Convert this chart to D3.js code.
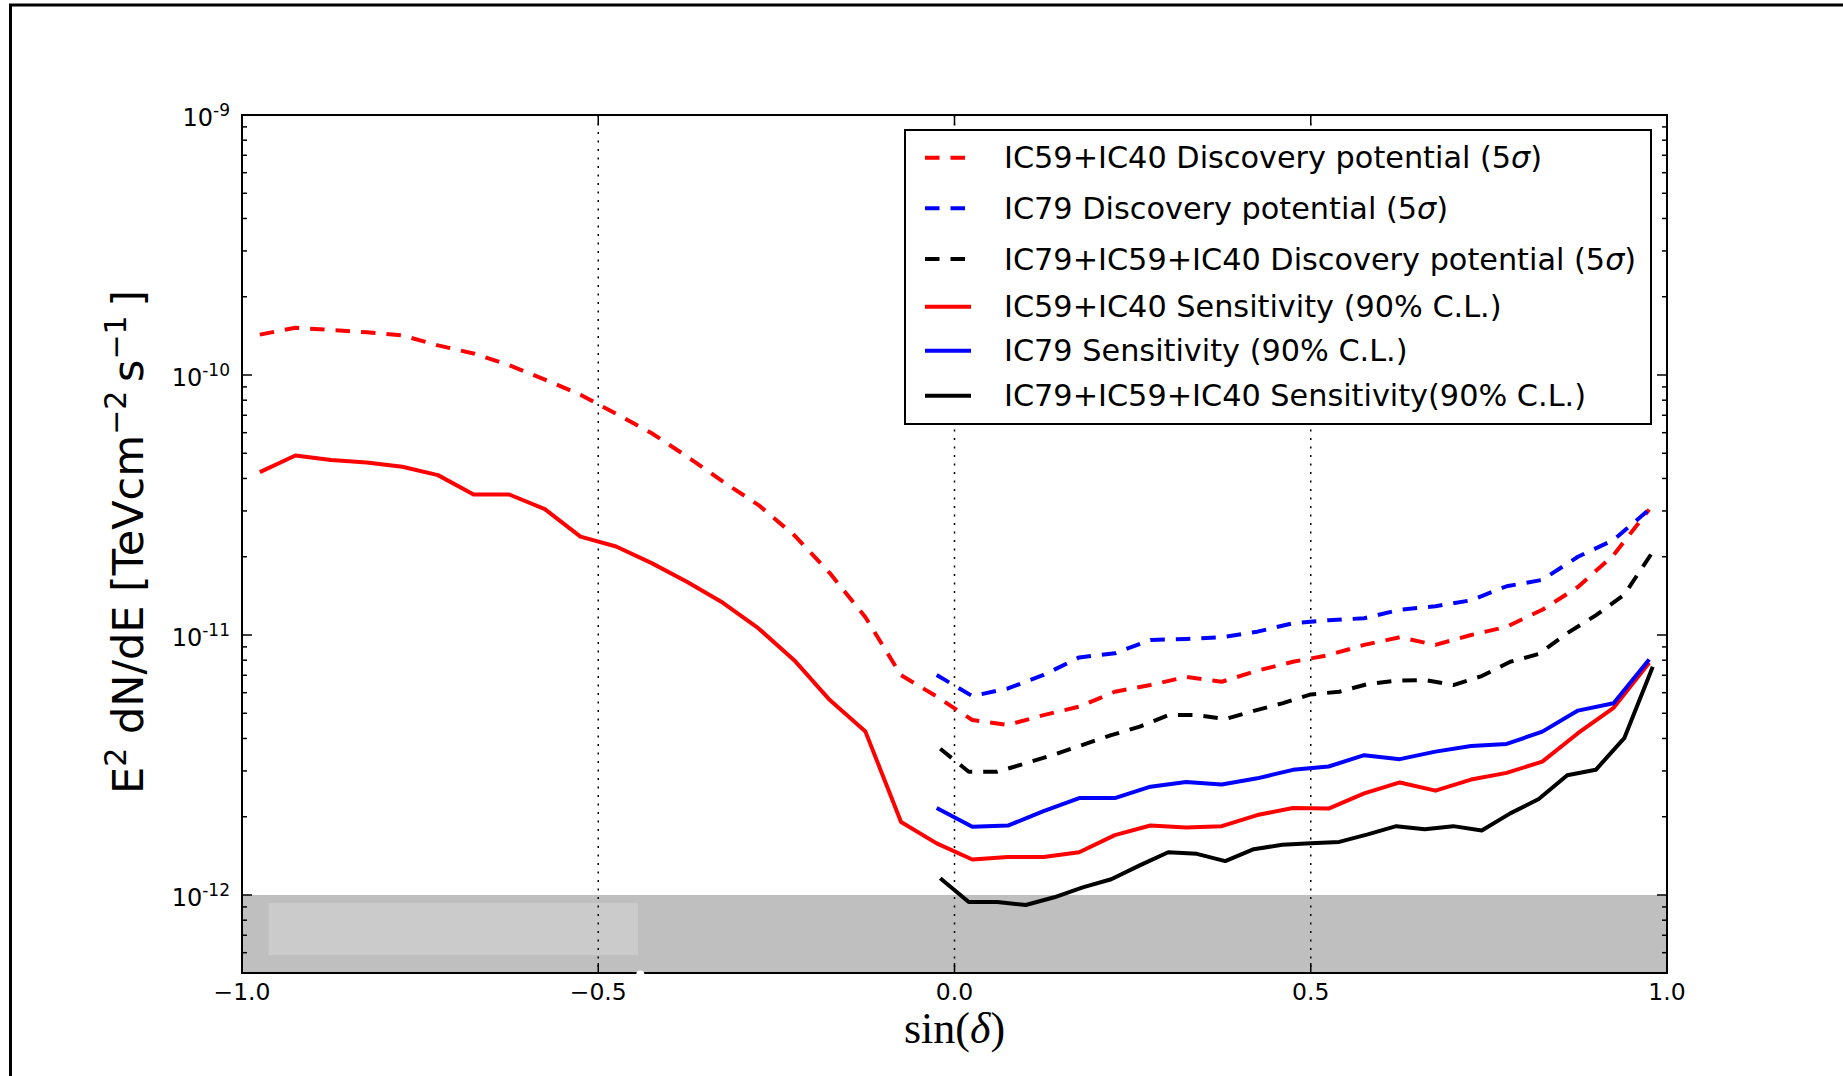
<!DOCTYPE html>
<html>
<head>
<meta charset="utf-8">
<script src="https://cdn.jsdelivr.net/npm/d3@7"></script>
<style>
  body { margin: 0; background: #fff; }
  svg { display: block; }
  text { font-family: "DejaVu Sans", sans-serif; fill: #000; }
</style>
</head>
<body>
<svg id="chart" width="1843" height="1076"></svg>
<script>
// sin(declination) sampling of each sample
const sinDecFull = [-0.975, -0.925, -0.875, -0.825, -0.775, -0.725, -0.675, -0.625, -0.575, -0.525,
  -0.475, -0.425, -0.375, -0.325, -0.275, -0.225, -0.175, -0.125, -0.075, -0.025,
  0.025, 0.075, 0.125, 0.175, 0.225, 0.275, 0.325, 0.375, 0.425, 0.475,
  0.525, 0.575, 0.625, 0.675, 0.725, 0.775, 0.825, 0.875, 0.925, 0.975];
const sinDecNorth = [-0.025, 0.025, 0.075, 0.125, 0.175, 0.225, 0.275, 0.325, 0.375, 0.425,
  0.475, 0.525, 0.575, 0.625, 0.675, 0.725, 0.775, 0.825, 0.875, 0.925, 0.975];
const sinDecComb = [-0.02, 0.02, 0.06, 0.10, 0.14, 0.18, 0.22, 0.26, 0.30, 0.34, 0.38, 0.42, 0.46,
  0.50, 0.54, 0.58, 0.62, 0.66, 0.70, 0.74, 0.78, 0.82, 0.86, 0.90, 0.94, 0.98];

// E^2 dN/dE flux values [TeV cm^-2 s^-1]
const ic5940Discovery = [1.43e-10, 1.52e-10, 1.49e-10, 1.46e-10, 1.42e-10, 1.30e-10, 1.21e-10, 1.09e-10, 9.6e-11, 8.4e-11,
  7.1e-11, 5.97e-11, 4.85e-11, 3.89e-11, 3.16e-11, 2.42e-11, 1.73e-11, 1.17e-11, 7.0e-12, 5.8e-12,
  4.71e-12, 4.51e-12, 4.92e-12, 5.30e-12, 6.05e-12, 6.42e-12, 6.9e-12, 6.61e-12, 7.29e-12, 7.89e-12,
  8.37e-12, 9.16e-12, 9.8e-12, 9.16e-12, 1.0e-11, 1.076e-11, 1.25e-11, 1.53e-11, 2.03e-11, 3.04e-11];
const ic79Discovery = [7.02e-12, 5.82e-12, 6.23e-12, 7.02e-12, 8.2e-12, 8.5e-12, 9.57e-12, 9.66e-12, 9.8e-12, 1.03e-11,
  1.11e-11, 1.14e-11, 1.16e-11, 1.25e-11, 1.29e-11, 1.36e-11, 1.54e-11, 1.63e-11, 2.0e-11, 2.32e-11, 3.04e-11];
const combDiscovery = [3.65e-12, 2.98e-12, 2.98e-12, 3.21e-12, 3.47e-12, 3.78e-12, 4.12e-12, 4.44e-12, 4.92e-12,
  4.92e-12, 4.75e-12, 5.11e-12, 5.46e-12, 5.91e-12, 6.05e-12, 6.48e-12, 6.67e-12, 6.71e-12, 6.42e-12,
  6.95e-12, 7.89e-12, 8.45e-12, 1.016e-11, 1.19e-11, 1.43e-11, 2.09e-11];
const ic5940Sensitivity = [4.23e-11, 4.90e-11, 4.71e-11, 4.61e-11, 4.44e-11, 4.12e-11, 3.47e-11, 3.47e-11, 3.05e-11, 2.39e-11,
  2.19e-11, 1.89e-11, 1.60e-11, 1.33e-11, 1.06e-11, 8.0e-12, 5.62e-12, 4.25e-12, 1.91e-12, 1.58e-12,
  1.37e-12, 1.40e-12, 1.40e-12, 1.46e-12, 1.70e-12, 1.85e-12, 1.82e-12, 1.84e-12, 2.03e-12, 2.16e-12,
  2.15e-12, 2.46e-12, 2.71e-12, 2.52e-12, 2.78e-12, 2.95e-12, 3.26e-12, 4.19e-12, 5.25e-12, 7.82e-12];
const ic79Sensitivity = [2.16e-12, 1.83e-12, 1.85e-12, 2.10e-12, 2.36e-12, 2.36e-12, 2.61e-12, 2.72e-12, 2.66e-12, 2.81e-12,
  3.03e-12, 3.12e-12, 3.45e-12, 3.33e-12, 3.56e-12, 3.74e-12, 3.81e-12, 4.25e-12, 5.12e-12, 5.46e-12, 8.05e-12];
const combSensitivity = [1.16e-12, 9.4e-13, 9.4e-13, 9.15e-13, 9.8e-13, 1.07e-12, 1.15e-12, 1.30e-12, 1.46e-12,
  1.44e-12, 1.35e-12, 1.50e-12, 1.56e-12, 1.58e-12, 1.60e-12, 1.71e-12, 1.84e-12, 1.79e-12, 1.84e-12,
  1.77e-12, 2.06e-12, 2.34e-12, 2.89e-12, 3.03e-12, 4.01e-12, 7.55e-12];

const seriesLabels = [
  ["IC59+IC40 Discovery potential (5", "σ", ")"],
  ["IC79 Discovery potential (5", "σ", ")"],
  ["IC79+IC59+IC40 Discovery potential (5", "σ", ")"],
  ["IC59+IC40 Sensitivity (90% C.L.)"],
  ["IC79 Sensitivity (90% C.L.)"],
  ["IC79+IC59+IC40 Sensitivity(90% C.L.)"]
];

const xTicks = [-1.0, -0.5, 0.0, 0.5, 1.0];
const yTickExponents = [-12, -11, -10, -9];
const shadedCeiling = 1e-12;

// ---- layout ----
const svg = d3.select("#chart");
const plot = { left: 242, right: 1667, top: 115, bottom: 973 };

const x = d3.scaleLinear().domain([-1, 1]).range([plot.left, plot.right]);
const y = d3.scaleLog().domain([Math.pow(10, -12.3), 1e-9]).range([plot.bottom, plot.top]);

const series = [
  { xs: sinDecFull, ys: ic5940Discovery, color: "#ff0000", dashed: true },
  { xs: sinDecNorth, ys: ic79Discovery, color: "#0000ff", dashed: true },
  { xs: sinDecComb, ys: combDiscovery, color: "#000000", dashed: true },
  { xs: sinDecFull, ys: ic5940Sensitivity, color: "#ff0000", dashed: false },
  { xs: sinDecNorth, ys: ic79Sensitivity, color: "#0000ff", dashed: false },
  { xs: sinDecComb, ys: combSensitivity, color: "#000000", dashed: false }
];
series.forEach((s, i) => s.label = seriesLabels[i]);

const DASH = "14.5 11";

// figure border (top and left edges)
svg.append("rect").attr("x", 0).attr("y", 0).attr("width", 1843).attr("height", 1076).attr("fill", "#fff");
svg.append("line").attr("x1", 9).attr("x2", 1843).attr("y1", 5).attr("y2", 5)
  .attr("stroke", "#000").attr("stroke-width", 3);
svg.append("line").attr("x1", 10.5).attr("x2", 10.5).attr("y1", 4).attr("y2", 1076)
  .attr("stroke", "#000").attr("stroke-width", 3);

// shaded region below 1e-12
const yMin = y.domain()[0];
svg.append("rect")
  .attr("x", x(-1)).attr("width", x(1) - x(-1))
  .attr("y", y(shadedCeiling)).attr("height", y(yMin) - y(shadedCeiling))
  .attr("fill", "#bfbfbf");
// lighter patch inside the shaded region
svg.append("rect")
  .attr("x", x(-0.963)).attr("width", x(-0.444) - x(-0.963))
  .attr("y", y(Math.pow(10, -12.031))).attr("height", y(Math.pow(10, -12.231)) - y(Math.pow(10, -12.031)))
  .attr("fill", "#cbcbcb");

// dotted grid
const grid = svg.append("g").attr("stroke", "#000").attr("stroke-width", 1.5)
  .attr("stroke-dasharray", "2 6.5").attr("fill", "none");
xTicks.filter(t => t > -1 && t < 1).forEach(t => {
  grid.append("line").attr("x1", x(t)).attr("x2", x(t)).attr("y1", plot.top).attr("y2", plot.bottom);
});
yTickExponents.filter(e => e > -9).forEach(e => {
  const v = Math.pow(10, e);
  grid.append("line").attr("x1", plot.left).attr("x2", plot.right).attr("y1", y(v)).attr("y2", y(v));
});

// curves
const lineGen = d3.line().x(d => x(d[0])).y(d => y(d[1]));
const curves = svg.append("g").attr("fill", "none");
series.forEach(s => {
  const pts = s.xs.map((v, i) => [v, s.ys[i]]);
  curves.append("path")
    .attr("d", lineGen(pts))
    .attr("stroke", s.color)
    .attr("stroke-width", 4)
    .attr("stroke-linejoin", "round")
    .attr("stroke-dasharray", s.dashed ? DASH : null);
});

// frame
svg.append("rect")
  .attr("x", plot.left).attr("y", plot.top)
  .attr("width", plot.right - plot.left).attr("height", plot.bottom - plot.top)
  .attr("fill", "none").attr("stroke", "#000").attr("stroke-width", 2);

// small notch on the bottom spine
svg.append("ellipse").attr("cx", x(-0.441)).attr("cy", plot.bottom + 1).attr("rx", 4).attr("ry", 3.5).attr("fill", "#fff");

// ticks (inward, all four sides)
const ticks = svg.append("g").attr("stroke", "#000").attr("stroke-width", 1.5);
xTicks.forEach(t => {
  ticks.append("line").attr("x1", x(t)).attr("x2", x(t)).attr("y1", plot.bottom).attr("y2", plot.bottom - 10);
  ticks.append("line").attr("x1", x(t)).attr("x2", x(t)).attr("y1", plot.top).attr("y2", plot.top + 10);
});
const yMajor = yTickExponents.map(e => Math.pow(10, e));
const yMinor = [];
for (let e = -13; e <= -10; e++) {
  for (let m = 2; m <= 9; m++) {
    const v = m * Math.pow(10, e);
    if (v >= yMin && v <= 1e-9) yMinor.push(v);
  }
}
yMajor.forEach(v => {
  ticks.append("line").attr("x1", plot.left).attr("x2", plot.left + 10).attr("y1", y(v)).attr("y2", y(v));
  ticks.append("line").attr("x1", plot.right).attr("x2", plot.right - 10).attr("y1", y(v)).attr("y2", y(v));
});
yMinor.forEach(v => {
  ticks.append("line").attr("x1", plot.left).attr("x2", plot.left + 5).attr("y1", y(v)).attr("y2", y(v));
  ticks.append("line").attr("x1", plot.right).attr("x2", plot.right - 5).attr("y1", y(v)).attr("y2", y(v));
});

// x tick labels
const fmtX = d3.format(".1f");
xTicks.forEach(t => {
  svg.append("text")
    .attr("x", x(t)).attr("y", plot.bottom + 26.5)
    .attr("text-anchor", "middle")
    .attr("font-size", 23.5)
    .text(fmtX(t).replace("-", "\u2212"));
});

// y tick labels: 10^exp
yTickExponents.forEach(e => {
  const t = svg.append("text")
    .attr("x", plot.left - 12).attr("y", y(Math.pow(10, e)) + 11)
    .attr("text-anchor", "end")
    .attr("font-size", 24);
  t.append("tspan").text("10");
  t.append("tspan").attr("dy", -10.5).attr("font-size", 17).text(String(e));
});

// axis titles
const yTitle = svg.append("text")
  .attr("transform", `translate(143, ${(plot.top + plot.bottom) / 2 - 2}) rotate(-90)`)
  .attr("text-anchor", "middle")
  .attr("font-size", 43);
yTitle.append("tspan").text("E");
yTitle.append("tspan").attr("dy", -17).attr("font-size", 30).text("2");
yTitle.append("tspan").attr("dy", 17).text(" dN/dE [TeVcm");
yTitle.append("tspan").attr("dy", -17).attr("font-size", 30).text("\u22122");
yTitle.append("tspan").attr("dy", 17).text("\u2009s");
yTitle.append("tspan").attr("dy", -17).attr("font-size", 30).text("\u22121");
yTitle.append("tspan").attr("dy", 17).text("\u2009]");

const xTitle = svg.append("text")
  .attr("x", x(0)).attr("y", 1043)
  .attr("text-anchor", "middle")
  .attr("font-size", 44)
  .style("font-family", "'Liberation Serif', serif");
xTitle.append("tspan").text("sin(");
xTitle.append("tspan").attr("font-style", "italic").text("δ");
xTitle.append("tspan").text(")");

// legend
const legendBox = { left: 905, top: 130, right: 1651, bottom: 424 };
const rowY = [157.7, 208.3, 259, 306.7, 350.7, 395.7];
const legend = svg.append("g");
legend.append("rect")
  .attr("x", legendBox.left).attr("y", legendBox.top)
  .attr("width", legendBox.right - legendBox.left).attr("height", legendBox.bottom - legendBox.top)
  .attr("fill", "#fff").attr("stroke", "#000").attr("stroke-width", 2);
series.forEach((s, i) => {
  const cy = rowY[i];
  legend.append("line")
    .attr("x1", 925).attr("x2", 971).attr("y1", cy).attr("y2", cy)
    .attr("stroke", s.color).attr("stroke-width", 4)
    .attr("stroke-dasharray", s.dashed ? DASH : null);
  const t = legend.append("text")
    .attr("x", 1004).attr("y", cy + 10.7)
    .attr("font-size", 30.3);
  s.label.forEach((part, j) => {
    const sp = t.append("tspan").text(part);
    if (j === 1) sp.attr("font-style", "italic");
  });
});
</script>
</body>
</html>
